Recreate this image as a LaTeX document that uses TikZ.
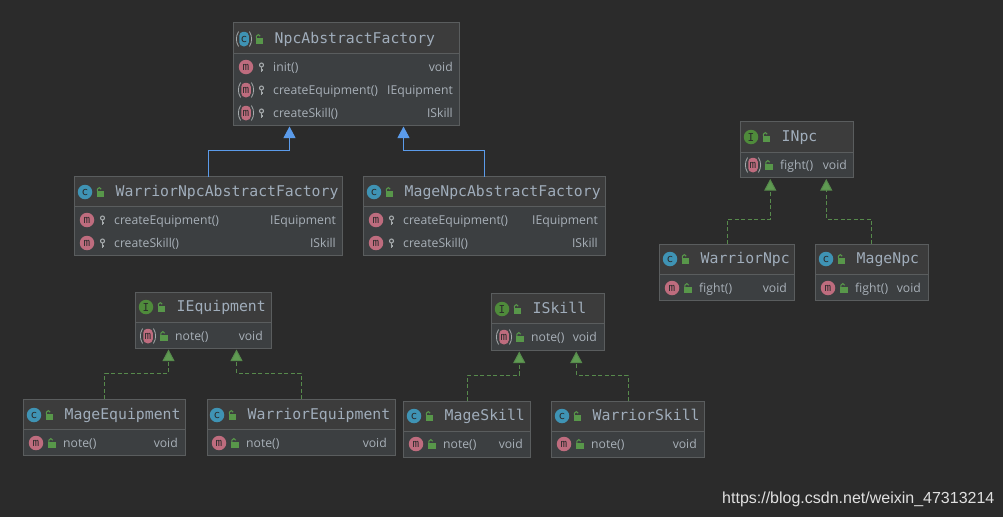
\documentclass[tikz,border=0pt]{standalone}
\usepackage{fontspec}
\usetikzlibrary{arrows.meta,fit}
\newfontfamily\titlefont{DejaVu Sans Mono}
\newfontfamily\memberfont{Open Sans}
\newfontfamily\markfont{Liberation Sans}
\definecolor{canvas}{HTML}{2B2B2B}
\definecolor{boxfill}{HTML}{3C3F41}
\definecolor{headfill}{HTML}{3C3C3C}
\definecolor{boxline}{HTML}{5A5D5E}
\definecolor{titlegrey}{HTML}{A0ADBB}
\definecolor{membergrey}{HTML}{A8B0B8}
\definecolor{classteal}{HTML}{3F93B4}
\definecolor{methodpink}{HTML}{BE6C7E}
\definecolor{ifacegreen}{HTML}{4F8B3B}
\definecolor{lockgreen}{HTML}{58974A}
\definecolor{keygrey}{HTML}{A4A9AB}
\definecolor{extendblue}{HTML}{5B9BEA}
\definecolor{implgreen}{HTML}{5F9B52}
\tikzset{
  boxnode/.style={draw=boxline,fill=boxfill,line width=1pt,inner sep=0pt,outer sep=0pt},
  headerline/.style={draw=boxline,line width=.8pt},
  classmark/.style={circle,fill=classteal,minimum size=14.5pt,inner sep=0pt,text=canvas,font=\titlefont\fontsize{11}{11}\selectfont},
  ifacemark/.style={classmark,fill=ifacegreen},
  methodmark/.style={classmark,fill=methodpink},
  methodabs/.style={rectangle,rounded corners=4pt,fill=methodpink,minimum width=9.5pt,minimum height=14.5pt,inner sep=0pt,text=canvas,font=\titlefont\fontsize{11}{11}\selectfont},
  classabs/.style={methodabs,fill=classteal},
  parenline/.style={draw=keygrey,line width=.8pt},
  titletext/.style={anchor=base west,inner sep=0pt,text=titlegrey,font=\titlefont\fontsize{14.8}{15}\selectfont},
  membertext/.style={anchor=base west,inner sep=0pt,text=membergrey,font=\memberfont\fontsize{12.2}{13}\selectfont},
  typetext/.style={membertext,anchor=base east},
  extends/.style={draw=extendblue,line width=1pt,-{Triangle[width=12pt,length=11.5pt]},shorten >=1.5pt},
  implements/.style={draw=implgreen!85!canvas,line width=1pt,dash pattern=on 4pt off 2.5pt,-{Triangle[width=12pt,length=11.5pt,fill=implgreen]},shorten >=1.5pt},
  lockmark/.pic={
    \fill[lockgreen] (-3.2,-1) rectangle (4.2,4.5);
    \draw[lockgreen,line width=1.1pt] (-2.6,-1) -- (-2.6,-2.8) arc[start angle=180,end angle=360,x radius=1.9,y radius=1.6];
  },
  keymark/.pic={
    \draw[keygrey,line width=1.1pt] (0,-2) circle[radius=2];
    \draw[keygrey,line width=1.3pt] (0,0) -- (0,4.5) (0,3) -- (1.5,3);
  }
}
% box outline with the line under its header
\newcommand{\classbox}[6]{
  \node[boxnode,fit={(#2,#3) (#4,#5)}] (#1) {};
  \fill[headfill] ([xshift=.5pt,yshift=-.5pt]#1.north west) rectangle ([xshift=-.5pt]#1.east |- 0,#6);
  \draw[headerline] (#1.west |- 0,#6) -- (#1.east |- 0,#6);
}
% id, mark style, letter, mark x, mark y, title
\newcommand{\classhead}[6]{
  \node[#2] (#1-mark) at (#4,#5) {#3};
  \pic at (#4+15,#5) {lockmark};
  \node[titletext] (#1-title) at (#4+30.5,#5+4.5) {#6};
}
% id, mark style, mark x, y, access pic, name, right edge, type
\newcommand{\methodrow}[8]{
  \node[#2] (#1-mark) at (#3,#4) {m};
  \pic at (#3+15.5,#4) {#5};
  \node[membertext] (#1-name) at (#3+27,#4+4.5) {#6};
  \node[typetext] (#1-type) at (#7,#4+4.5) {#8};
}
% round brackets either side of an abstract mark
\newcommand{\absparens}[1]{
  \draw[parenline] ([xshift=-.5pt]#1.north west) to[bend right=30] ([xshift=-.5pt]#1.south west);
  \draw[parenline] ([xshift=.5pt]#1.north east) to[bend left=30] ([xshift=.5pt]#1.south east);
}
\begin{document}
\begin{tikzpicture}[x=1pt,y=-1pt]
\useasboundingbox (0,0) rectangle (1003,517);
\fill[canvas] (0,0) rectangle (1003,517);

% factories
\classbox{factory}{233.5}{22.5}{459.5}{125}{53}
\classhead{factory}{classabs}{c}{244}{39}{NpcAbstractFactory}
\absparens{factory-mark}
\methodrow{factory-init}{methodmark}{246}{67}{keymark}{init()}{453}{void}
\methodrow{factory-equip}{methodabs}{246}{90}{keymark}{createEquipment()}{453}{IEquipment}
\methodrow{factory-skill}{methodabs}{246}{113}{keymark}{createSkill()}{453}{ISkill}
\absparens{factory-equip-mark}
\absparens{factory-skill-mark}

\classbox{warfactory}{74.5}{176.5}{342.5}{255}{206}
\classhead{warfactory}{classmark}{c}{85}{192}{WarriorNpcAbstractFactory}
\methodrow{warfactory-equip}{methodmark}{87}{220}{keymark}{createEquipment()}{336}{IEquipment}
\methodrow{warfactory-skill}{methodmark}{87}{243}{keymark}{createSkill()}{336}{ISkill}

\classbox{magefactory}{363.5}{176.5}{605}{255}{206}
\classhead{magefactory}{classmark}{c}{374}{192}{MageNpcAbstractFactory}
\methodrow{magefactory-equip}{methodmark}{376}{220}{keymark}{createEquipment()}{598}{IEquipment}
\methodrow{magefactory-skill}{methodmark}{376}{243}{keymark}{createSkill()}{598}{ISkill}

% npc
\classbox{inpc}{740.5}{121.5}{853}{177.5}{152}
\classhead{inpc}{ifacemark}{I}{751}{137}{INpc}
\methodrow{inpc-fight}{methodabs}{753}{165}{lockmark}{fight()}{847}{void}
\absparens{inpc-fight-mark}

\classbox{warnpc}{659.5}{244}{794.5}{300}{274.5}
\classhead{warnpc}{classmark}{c}{670}{259}{WarriorNpc}
\methodrow{warnpc-fight}{methodmark}{672}{288}{lockmark}{fight()}{787}{void}

\classbox{magenpc}{815.5}{244}{928}{300}{274.5}
\classhead{magenpc}{classmark}{c}{826}{259}{MageNpc}
\methodrow{magenpc-fight}{methodmark}{828}{288}{lockmark}{fight()}{921}{void}

% equipment
\classbox{iequip}{135}{292}{271}{348}{322.5}
\classhead{iequip}{ifacemark}{I}{146}{307}{IEquipment}
\methodrow{iequip-note}{methodabs}{148}{336}{lockmark}{note()}{263}{void}
\absparens{iequip-note-mark}

\classbox{mageequip}{23.5}{399}{185.5}{455.5}{429.5}
\classhead{mageequip}{classmark}{c}{34}{415}{MageEquipment}
\methodrow{mageequip-note}{methodmark}{36}{443}{lockmark}{note()}{178}{void}

\classbox{warequip}{207}{399}{395}{455.5}{429.5}
\classhead{warequip}{classmark}{c}{217}{415}{WarriorEquipment}
\methodrow{warequip-note}{methodmark}{219}{443}{lockmark}{note()}{387}{void}

% skill
\classbox{iskill}{491}{293.5}{604.5}{350}{323.5}
\classhead{iskill}{ifacemark}{I}{502}{309}{ISkill}
\methodrow{iskill-note}{methodabs}{504}{337}{lockmark}{note()}{597}{void}
\absparens{iskill-note-mark}

\classbox{mageskill}{403.5}{401}{530.5}{457}{431}
\classhead{mageskill}{classmark}{c}{414}{416}{MageSkill}
\methodrow{mageskill-note}{methodmark}{416}{444}{lockmark}{note()}{523}{void}

\classbox{warskill}{551.5}{401}{704.5}{457}{431}
\classhead{warskill}{classmark}{c}{562}{416}{WarriorSkill}
\methodrow{warskill-note}{methodmark}{564}{444}{lockmark}{note()}{697}{void}

% inheritance
\draw[extends] (warfactory.north) -- ++(0,-26) -| ([xshift=-57pt]factory.south);
\draw[extends] (magefactory.north) -- ++(0,-26) -| ([xshift=57pt]factory.south);
\draw[implements] (warnpc.north) -- ++(0,-25) -| ([xshift=-26.5pt]inpc.south);
\draw[implements] (magenpc.north) -- ++(0,-25) -| ([xshift=29.5pt]inpc.south);
\draw[implements] (mageequip.north) -- ++(0,-26) -| ([xshift=-34.5pt]iequip.south);
\draw[implements] (warequip.north) -- ++(0,-26) -| ([xshift=33.5pt]iequip.south);
\draw[implements] (mageskill.north) -- ++(0,-26) -| ([xshift=-28.5pt]iskill.south);
\draw[implements] (warskill.north) -- ++(0,-26) -| ([xshift=28.5pt]iskill.south);

\node[anchor=base west,inner sep=0pt,text=white!88!black,font=\markfont\fontsize{16}{17}\selectfont] (blogurl) at (722,503.5) {https://blog.csdn.net/weixin\_47313214};
\end{tikzpicture}
\end{document}
